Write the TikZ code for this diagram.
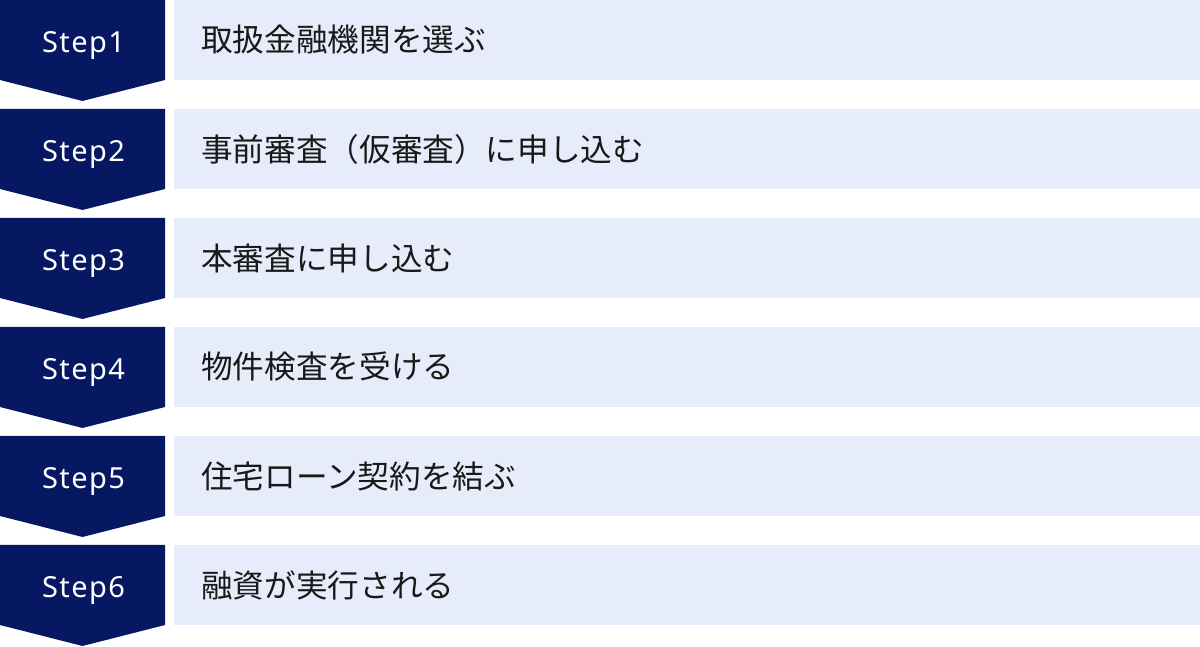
\documentclass[tikz,border=0pt]{standalone}
\usepackage{fontspec}
\setmainfont{Noto Sans}
\newfontfamily\stepfont[LetterSpace=5]{Noto Sans}
\newfontfamily\jpfont{Noto Sans CJK JP}
\definecolor{stepnavy}{HTML}{061862}
\definecolor{rowblue}{HTML}{E6ECF9}
\tikzset{
  chevron/.style={fill=stepnavy, draw=none},
  rowbox/.style={fill=rowblue, draw=none},
  steplabel/.style={text=white, font=\stepfont\fontsize{16.5}{20}\selectfont, anchor=base, inner sep=0pt},
  rowtext/.style={text=black!90, font=\jpfont\fontsize{18}{22}\selectfont, anchor=west}
}

\begin{document}
\begin{tikzpicture}
\useasboundingbox (0,0) rectangle (24,12.94);
\fill[chevron] (0,12.94) -- (3.3,12.94) -- (3.3,11.34) -- (1.65,10.92) -- (0,11.34) -- cycle;
\fill[rowbox] (3.48,12.94) rectangle (24,11.34);
\node[steplabel] (s1) at (1.67,11.88) {Step1};
\node[rowtext] (t1) at (3.9,12.14) {取扱金融機関を選ぶ};
\fill[chevron] (0,10.76) -- (3.3,10.76) -- (3.3,9.16) -- (1.65,8.74) -- (0,9.16) -- cycle;
\fill[rowbox] (3.48,10.76) rectangle (24,9.16);
\node[steplabel] (s2) at (1.67,9.70) {Step2};
\node[rowtext] (t2) at (3.9,9.96) {事前審査（仮審査）に申し込む};
\fill[chevron] (0,8.58) -- (3.3,8.58) -- (3.3,6.98) -- (1.65,6.56) -- (0,6.98) -- cycle;
\fill[rowbox] (3.48,8.58) rectangle (24,6.98);
\node[steplabel] (s3) at (1.67,7.52) {Step3};
\node[rowtext] (t3) at (3.9,7.78) {本審査に申し込む};
\fill[chevron] (0,6.40) -- (3.3,6.40) -- (3.3,4.80) -- (1.65,4.38) -- (0,4.80) -- cycle;
\fill[rowbox] (3.48,6.40) rectangle (24,4.80);
\node[steplabel] (s4) at (1.67,5.34) {Step4};
\node[rowtext] (t4) at (3.9,5.60) {物件検査を受ける};
\fill[chevron] (0,4.22) -- (3.3,4.22) -- (3.3,2.62) -- (1.65,2.20) -- (0,2.62) -- cycle;
\fill[rowbox] (3.48,4.22) rectangle (24,2.62);
\node[steplabel] (s5) at (1.67,3.16) {Step5};
\node[rowtext] (t5) at (3.9,3.42) {住宅ローン契約を結ぶ};
\fill[chevron] (0,2.04) -- (3.3,2.04) -- (3.3,0.44) -- (1.65,0.02) -- (0,0.44) -- cycle;
\fill[rowbox] (3.48,2.04) rectangle (24,0.44);
\node[steplabel] (s6) at (1.67,0.98) {Step6};
\node[rowtext] (t6) at (3.9,1.24) {融資が実行される};
\end{tikzpicture}
\end{document}
